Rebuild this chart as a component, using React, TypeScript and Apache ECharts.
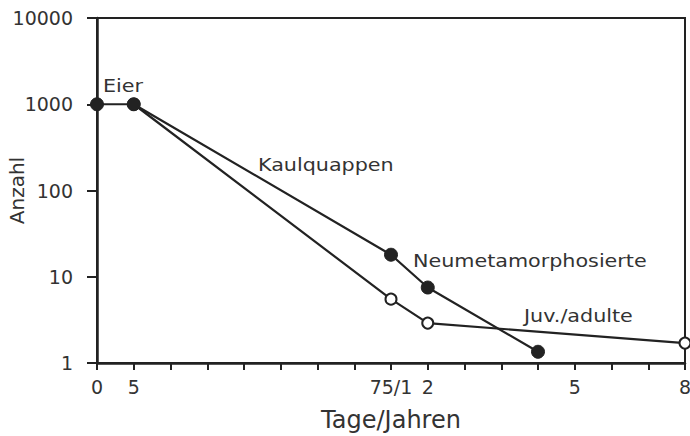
import React, { useEffect, useRef } from "react";
import * as echarts from "echarts";

// x positions are tick indices on the original (mixed days/years) axis
const xTickLabels = ["0", "5", "", "", "", "", "", "", "75/1", "2", "", "", "", "5", "", "", "8"];
const yTickLabels = ["1", "10", "100", "1000", "10000"];

const filledX = [0, 1, 8, 9, 12];
const filledY = [1000, 1000, 18, 7.5, 1.35];
const openX = [1, 8, 9, 16];
const openY = [1000, 5.5, 2.9, 1.7];

const annotations = ["Eier", "Kaulquappen", "Neumetamorphosierte", "Juv./adulte"];

const INK = "#222";
const FONT = "DejaVu Sans";

export default function App() {
  const ref = useRef<HTMLDivElement>(null);
  useEffect(() => {
    if (!ref.current) return;
    const chart = echarts.init(ref.current, undefined, { renderer: "svg" });
    const annPos = [
      [103, 88],
      [258, 167],
      [413, 263],
      [524, 318],
    ];
    chart.setOption({
      animation: false,
      backgroundColor: "#fff",
      grid: {
        left: 97,
        top: 18,
        right: 5,
        bottom: 73,
        outerBoundsMode: "none",
        containLabel: false,
        show: true,
        borderColor: INK,
        borderWidth: 2,
      },
      xAxis: {
        type: "value",
        min: 0,
        max: 16,
        interval: 1,
        name: "Tage/Jahren",
        nameLocation: "middle",
        nameGap: 45,
        nameMoveOverlap: false,
        nameTextStyle: { fontFamily: FONT, fontSize: 24, color: "#333" },
        axisLine: { lineStyle: { color: INK, width: 2.5 } },
        axisTick: { show: true, length: 7, lineStyle: { color: INK, width: 2 } },
        axisLabel: {
          margin: 14,
          fontFamily: FONT,
          fontSize: 19,
          color: "#333",
          showMaxLabel: true,
          showMinLabel: true,
          formatter: (v: number) => xTickLabels[Math.round(v)] ?? "",
        },
        splitLine: { show: false },
      },
      yAxis: {
        type: "log",
        logBase: 10,
        min: 1,
        max: 10000,
        name: "Anzahl",
        nameLocation: "middle",
        nameGap: 70,
        nameMoveOverlap: false,
        nameTextStyle: { fontFamily: FONT, fontSize: 20, color: "#333" },
        axisLine: { show: true, lineStyle: { color: INK, width: 2.5 } },
        axisTick: { show: true, length: 10, lineStyle: { color: INK, width: 2 } },
        axisLabel: {
          margin: 24,
          fontFamily: FONT,
          fontSize: 19,
          color: "#333",
          formatter: (v: number) => {
            const i = Math.round(Math.log10(v));
            return yTickLabels[i] ?? String(v);
          },
        },
        splitLine: { show: false },
        minorTick: { show: false },
      },
      series: [
        {
          type: "line",
          name: "open",
          data: openX.map((x, i) => [x, openY[i]]),
          symbol: "circle",
          symbolSize: 11,
          clip: false,
          lineStyle: { color: INK, width: 2.2 },
          itemStyle: { color: "#fff", borderColor: INK, borderWidth: 2 },
          z: 2,
        },
        {
          type: "line",
          name: "filled",
          data: filledX.map((x, i) => [x, filledY[i]]),
          symbol: "circle",
          symbolSize: 13,
          clip: false,
          lineStyle: { color: INK, width: 2.2 },
          itemStyle: { color: INK, borderColor: INK, borderWidth: 1 },
          z: 3,
        },
      ],
      graphic: annotations.map((t, i) => ({
        type: "text",
        x: annPos[i][0],
        y: annPos[i][1] - 11,
        scaleX: 1.15,
        z: 10,
        style: {
          text: t,
          fontFamily: FONT,
          fontSize: 18,
          fill: "#333",
        },
      })),
    });
    return () => chart.dispose();
  }, []);
  return (
    <div
      ref={ref}
      style={{ position: "absolute", left: 0, top: 0, width: 690, height: 436 }}
    />
  );
}
